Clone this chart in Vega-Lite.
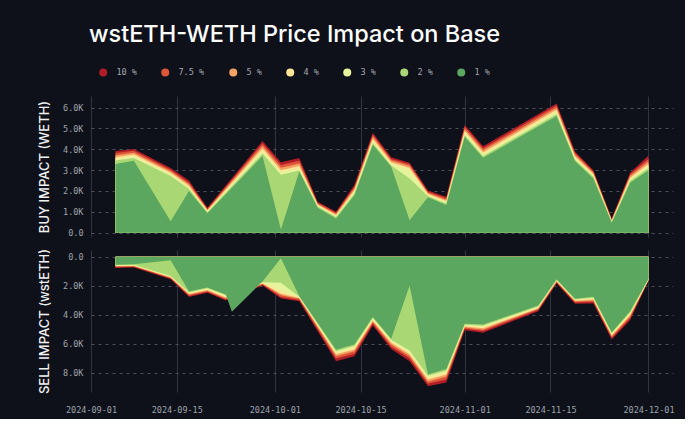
{
"$schema": "https://vega.github.io/schema/vega-lite/v6.json",
"background": "#0e111a",
"padding": {"left": 38, "top": 22, "right": 10, "bottom": 5},
"config": {"view": {"stroke": null}, "font": "Inter"},
"data": {"values": [
{"date":"2024-09-05","level":"10 %","buy":3920,"sell":770},{"date":"2024-09-05","level":"7.5 %","buy":3820,"sell":720},{"date":"2024-09-05","level":"5 %","buy":3720,"sell":680},{"date":"2024-09-05","level":"4 %","buy":3620,"sell":640},{"date":"2024-09-05","level":"3 %","buy":3540,"sell":610},{"date":"2024-09-05","level":"2 %","buy":3460,"sell":580},{"date":"2024-09-05","level":"1 %","buy":3300,"sell":550},
{"date":"2024-09-08","level":"10 %","buy":4020,"sell":750},{"date":"2024-09-08","level":"7.5 %","buy":3930,"sell":700},{"date":"2024-09-08","level":"5 %","buy":3840,"sell":660},{"date":"2024-09-08","level":"4 %","buy":3750,"sell":630},{"date":"2024-09-08","level":"3 %","buy":3660,"sell":600},{"date":"2024-09-08","level":"2 %","buy":3580,"sell":560},{"date":"2024-09-08","level":"1 %","buy":3450,"sell":520},
{"date":"2024-09-14","level":"10 %","buy":3100,"sell":1560},{"date":"2024-09-14","level":"7.5 %","buy":3020,"sell":1500},{"date":"2024-09-14","level":"5 %","buy":2950,"sell":1450},{"date":"2024-09-14","level":"4 %","buy":2880,"sell":1410},{"date":"2024-09-14","level":"3 %","buy":2800,"sell":1370},{"date":"2024-09-14","level":"2 %","buy":2720,"sell":1330},{"date":"2024-09-14","level":"1 %","buy":550,"sell":240},
{"date":"2024-09-17","level":"10 %","buy":2500,"sell":2780},{"date":"2024-09-17","level":"7.5 %","buy":2400,"sell":2700},{"date":"2024-09-17","level":"5 %","buy":2320,"sell":2620},{"date":"2024-09-17","level":"4 %","buy":2240,"sell":2560},{"date":"2024-09-17","level":"3 %","buy":2170,"sell":2500},{"date":"2024-09-17","level":"2 %","buy":2100,"sell":2450},{"date":"2024-09-17","level":"1 %","buy":2000,"sell":2400},
{"date":"2024-09-20","level":"10 %","buy":1200,"sell":2480},{"date":"2024-09-20","level":"7.5 %","buy":1150,"sell":2420},{"date":"2024-09-20","level":"5 %","buy":1100,"sell":2360},{"date":"2024-09-20","level":"4 %","buy":1060,"sell":2300},{"date":"2024-09-20","level":"3 %","buy":1020,"sell":2240},{"date":"2024-09-20","level":"2 %","buy":980,"sell":2180},{"date":"2024-09-20","level":"1 %","buy":930,"sell":2120},
{"date":"2024-09-23","level":"10 %","buy":null,"sell":3020},{"date":"2024-09-23","level":"7.5 %","buy":null,"sell":2950},{"date":"2024-09-23","level":"5 %","buy":null,"sell":2870},{"date":"2024-09-23","level":"4 %","buy":null,"sell":2800},{"date":"2024-09-23","level":"3 %","buy":null,"sell":2730},{"date":"2024-09-23","level":"2 %","buy":null,"sell":2660},{"date":"2024-09-23","level":"1 %","buy":null,"sell":2600},
{"date":"2024-09-24","level":"1 %","buy":null,"sell":3790},
{"date":"2024-09-29","level":"10 %","buy":4400,"sell":1980},{"date":"2024-09-29","level":"7.5 %","buy":4280,"sell":1930},{"date":"2024-09-29","level":"5 %","buy":4160,"sell":1880},{"date":"2024-09-29","level":"4 %","buy":4040,"sell":1840},{"date":"2024-09-29","level":"3 %","buy":3920,"sell":1800},{"date":"2024-09-29","level":"2 %","buy":3800,"sell":1760},{"date":"2024-09-29","level":"1 %","buy":3680,"sell":1700},
{"date":"2024-10-02","level":"10 %","buy":3380,"sell":2880},{"date":"2024-10-02","level":"7.5 %","buy":3250,"sell":2770},{"date":"2024-10-02","level":"5 %","buy":3120,"sell":2650},{"date":"2024-10-02","level":"4 %","buy":3000,"sell":2550},{"date":"2024-10-02","level":"3 %","buy":2900,"sell":2350},{"date":"2024-10-02","level":"2 %","buy":2780,"sell":1800},{"date":"2024-10-02","level":"1 %","buy":150,"sell":100},
{"date":"2024-10-05","level":"10 %","buy":3580,"sell":3060},{"date":"2024-10-05","level":"7.5 %","buy":3450,"sell":2980},{"date":"2024-10-05","level":"5 %","buy":3320,"sell":2900},{"date":"2024-10-05","level":"4 %","buy":3200,"sell":2850},{"date":"2024-10-05","level":"3 %","buy":3080,"sell":2800},{"date":"2024-10-05","level":"2 %","buy":2980,"sell":2760},{"date":"2024-10-05","level":"1 %","buy":2930,"sell":2720},
{"date":"2024-10-08","level":"10 %","buy":1480,"sell":null},{"date":"2024-10-08","level":"7.5 %","buy":1430,"sell":null},{"date":"2024-10-08","level":"5 %","buy":1380,"sell":null},{"date":"2024-10-08","level":"4 %","buy":1340,"sell":null},{"date":"2024-10-08","level":"3 %","buy":1300,"sell":null},{"date":"2024-10-08","level":"2 %","buy":1260,"sell":null},{"date":"2024-10-08","level":"1 %","buy":1200,"sell":null},
{"date":"2024-10-11","level":"10 %","buy":1000,"sell":7200},{"date":"2024-10-11","level":"7.5 %","buy":950,"sell":7000},{"date":"2024-10-11","level":"5 %","buy":900,"sell":6850},{"date":"2024-10-11","level":"4 %","buy":850,"sell":6720},{"date":"2024-10-11","level":"3 %","buy":800,"sell":6600},{"date":"2024-10-11","level":"2 %","buy":750,"sell":6500},{"date":"2024-10-11","level":"1 %","buy":680,"sell":6400},
{"date":"2024-10-14","level":"10 %","buy":2300,"sell":6850},{"date":"2024-10-14","level":"7.5 %","buy":2200,"sell":6680},{"date":"2024-10-14","level":"5 %","buy":2120,"sell":6500},{"date":"2024-10-14","level":"4 %","buy":2040,"sell":6380},{"date":"2024-10-14","level":"3 %","buy":1960,"sell":6250},{"date":"2024-10-14","level":"2 %","buy":1880,"sell":6150},{"date":"2024-10-14","level":"1 %","buy":1800,"sell":6050},
{"date":"2024-10-17","level":"10 %","buy":4800,"sell":4740},{"date":"2024-10-17","level":"7.5 %","buy":4700,"sell":4620},{"date":"2024-10-17","level":"5 %","buy":4600,"sell":4500},{"date":"2024-10-17","level":"4 %","buy":4500,"sell":4400},{"date":"2024-10-17","level":"3 %","buy":4400,"sell":4300},{"date":"2024-10-17","level":"2 %","buy":4300,"sell":4220},{"date":"2024-10-17","level":"1 %","buy":4220,"sell":4150},
{"date":"2024-10-20","level":"10 %","buy":3620,"sell":6350},{"date":"2024-10-20","level":"7.5 %","buy":3540,"sell":6200},{"date":"2024-10-20","level":"5 %","buy":3460,"sell":6050},{"date":"2024-10-20","level":"4 %","buy":3380,"sell":5920},{"date":"2024-10-20","level":"3 %","buy":3300,"sell":5820},{"date":"2024-10-20","level":"2 %","buy":3220,"sell":5720},{"date":"2024-10-20","level":"1 %","buy":3170,"sell":5650},
{"date":"2024-10-23","level":"10 %","buy":3360,"sell":7200},{"date":"2024-10-23","level":"7.5 %","buy":3280,"sell":7000},{"date":"2024-10-23","level":"5 %","buy":3200,"sell":6850},{"date":"2024-10-23","level":"4 %","buy":3100,"sell":6720},{"date":"2024-10-23","level":"3 %","buy":3000,"sell":6600},{"date":"2024-10-23","level":"2 %","buy":2600,"sell":6450},{"date":"2024-10-23","level":"1 %","buy":600,"sell":2000},
{"date":"2024-10-26","level":"10 %","buy":2020,"sell":8920},{"date":"2024-10-26","level":"7.5 %","buy":1960,"sell":8750},{"date":"2024-10-26","level":"5 %","buy":1900,"sell":8600},{"date":"2024-10-26","level":"4 %","buy":1850,"sell":8450},{"date":"2024-10-26","level":"3 %","buy":1800,"sell":8330},{"date":"2024-10-26","level":"2 %","buy":1750,"sell":8200},{"date":"2024-10-26","level":"1 %","buy":1700,"sell":8100},
{"date":"2024-10-29","level":"10 %","buy":1720,"sell":8650},{"date":"2024-10-29","level":"7.5 %","buy":1650,"sell":8450},{"date":"2024-10-29","level":"5 %","buy":1580,"sell":8250},{"date":"2024-10-29","level":"4 %","buy":1520,"sell":8100},{"date":"2024-10-29","level":"3 %","buy":1460,"sell":7980},{"date":"2024-10-29","level":"2 %","buy":1400,"sell":7850},{"date":"2024-10-29","level":"1 %","buy":1330,"sell":7720},
{"date":"2024-11-01","level":"10 %","buy":5180,"sell":5060},{"date":"2024-11-01","level":"7.5 %","buy":5080,"sell":4960},{"date":"2024-11-01","level":"5 %","buy":4980,"sell":4880},{"date":"2024-11-01","level":"4 %","buy":4880,"sell":4800},{"date":"2024-11-01","level":"3 %","buy":4780,"sell":4740},{"date":"2024-11-01","level":"2 %","buy":4680,"sell":4680},{"date":"2024-11-01","level":"1 %","buy":4600,"sell":4620},
{"date":"2024-11-04","level":"10 %","buy":4150,"sell":5240},{"date":"2024-11-04","level":"7.5 %","buy":4050,"sell":5120},{"date":"2024-11-04","level":"5 %","buy":3950,"sell":5020},{"date":"2024-11-04","level":"4 %","buy":3850,"sell":4930},{"date":"2024-11-04","level":"3 %","buy":3760,"sell":4840},{"date":"2024-11-04","level":"2 %","buy":3680,"sell":4750},{"date":"2024-11-04","level":"1 %","buy":3600,"sell":4670},
{"date":"2024-11-13","level":"10 %","buy":null,"sell":3750},{"date":"2024-11-13","level":"7.5 %","buy":null,"sell":3670},{"date":"2024-11-13","level":"5 %","buy":null,"sell":3600},{"date":"2024-11-13","level":"4 %","buy":null,"sell":3540},{"date":"2024-11-13","level":"3 %","buy":null,"sell":3480},{"date":"2024-11-13","level":"2 %","buy":null,"sell":3420},{"date":"2024-11-13","level":"1 %","buy":null,"sell":3360},
{"date":"2024-11-16","level":"10 %","buy":6200,"sell":1840},{"date":"2024-11-16","level":"7.5 %","buy":6100,"sell":1780},{"date":"2024-11-16","level":"5 %","buy":6000,"sell":1730},{"date":"2024-11-16","level":"4 %","buy":5900,"sell":1680},{"date":"2024-11-16","level":"3 %","buy":5800,"sell":1640},{"date":"2024-11-16","level":"2 %","buy":5700,"sell":1600},{"date":"2024-11-16","level":"1 %","buy":5600,"sell":1560},
{"date":"2024-11-19","level":"10 %","buy":3900,"sell":3240},{"date":"2024-11-19","level":"7.5 %","buy":3820,"sell":3150},{"date":"2024-11-19","level":"5 %","buy":3740,"sell":3080},{"date":"2024-11-19","level":"4 %","buy":3660,"sell":3030},{"date":"2024-11-19","level":"3 %","buy":3580,"sell":2980},{"date":"2024-11-19","level":"2 %","buy":3500,"sell":2940},{"date":"2024-11-19","level":"1 %","buy":3440,"sell":2900},
{"date":"2024-11-22","level":"10 %","buy":3000,"sell":3220},{"date":"2024-11-22","level":"7.5 %","buy":2940,"sell":3120},{"date":"2024-11-22","level":"5 %","buy":2880,"sell":3030},{"date":"2024-11-22","level":"4 %","buy":2820,"sell":2950},{"date":"2024-11-22","level":"3 %","buy":2750,"sell":2880},{"date":"2024-11-22","level":"2 %","buy":2680,"sell":2820},{"date":"2024-11-22","level":"1 %","buy":2600,"sell":2760},
{"date":"2024-11-25","level":"10 %","buy":680,"sell":5700},{"date":"2024-11-25","level":"7.5 %","buy":640,"sell":5600},{"date":"2024-11-25","level":"5 %","buy":600,"sell":5500},{"date":"2024-11-25","level":"4 %","buy":570,"sell":5420},{"date":"2024-11-25","level":"3 %","buy":540,"sell":5340},{"date":"2024-11-25","level":"2 %","buy":510,"sell":5270},{"date":"2024-11-25","level":"1 %","buy":480,"sell":5200},
{"date":"2024-11-28","level":"10 %","buy":2880,"sell":4370},{"date":"2024-11-28","level":"7.5 %","buy":2800,"sell":4240},{"date":"2024-11-28","level":"5 %","buy":2720,"sell":4120},{"date":"2024-11-28","level":"4 %","buy":2640,"sell":4020},{"date":"2024-11-28","level":"3 %","buy":2560,"sell":3930},{"date":"2024-11-28","level":"2 %","buy":2480,"sell":3840},{"date":"2024-11-28","level":"1 %","buy":2400,"sell":3750},
{"date":"2024-12-01","level":"10 %","buy":3700,"sell":1660},{"date":"2024-12-01","level":"7.5 %","buy":3550,"sell":1640},{"date":"2024-12-01","level":"5 %","buy":3420,"sell":1620},{"date":"2024-12-01","level":"4 %","buy":3300,"sell":1600},{"date":"2024-12-01","level":"3 %","buy":3200,"sell":1580},{"date":"2024-12-01","level":"2 %","buy":3100,"sell":1550},{"date":"2024-12-01","level":"1 %","buy":3000,"sell":1520}
]},
"spacing": 10,
"resolve": {"legend": {"color": "independent"}},
"vconcat": [
{
"title": {"text": "wstETH-WETH Price Impact on Base", "anchor": "start", "frame": "group", "font": "Inter", "fontSize": 23.5, "fontWeight": 500, "color": "#ffffff", "offset": 22, "dx": -2},
"width": 582, "height": 141,
"transform": [{"filter": "datum.buy != null"}],
"mark": {"type": "area", "opacity": 1},
"encoding": {
"x": {"field": "date", "type": "temporal",
"scale": {"type": "utc", "domain": [{"year":2024,"month":9,"date":1,"utc":true},{"year":2024,"month":12,"date":5,"utc":true}]},
"axis": {"title": null, "labels": false, "ticks": false, "domain": false, "grid": true, "gridColor": "#2f343e", "gridWidth": 1,
"values": [{"year":2024,"month":9,"date":1,"utc":true},{"year":2024,"month":9,"date":15,"utc":true},{"year":2024,"month":10,"date":1,"utc":true},{"year":2024,"month":10,"date":15,"utc":true},{"year":2024,"month":11,"date":1,"utc":true},{"year":2024,"month":11,"date":15,"utc":true},{"year":2024,"month":12,"date":1,"utc":true}]}},
"y": {"field": "buy", "type": "quantitative", "stack": null,
"scale": {"domain": [-210, 6560], "nice": false, "zero": false},
"axis": {"title": "BUY IMPACT (WETH)", "values": [0,1000,2000,3000,4000,5000,6000],
"labelExpr": "datum.value == 0 ? '0.0' : format(datum.value/1000, '.1f') + 'K'",
"domain": false, "ticks": false, "labelPadding": 8, "grid": true, "gridDash": [3,4], "gridColor": "#4a4f59",
"labelFont": "DejaVu Sans Mono", "labelFontSize": 8.5, "labelColor": "#9ea3ab",
"titleFont": "Inter", "titleFontSize": 13, "titleFontWeight": 500, "titleColor": "#f0f0f0", "titlePadding": 11}},
"color": {"field": "level", "type": "nominal",
"scale": {"domain": ["10 %","7.5 %","5 %","4 %","3 %","2 %","1 %"], "range": ["#b01c27","#de5638","#f4a263","#fde698","#e4f39c","#a9d774","#5ca75f"]},
"legend": {"orient": "none", "legendX": 8, "legendY": -28, "direction": "horizontal", "title": null, "symbolType": "circle", "symbolSize": 64, "symbolStrokeWidth": 0, "symbolOpacity": 1, "labelFont": "DejaVu Sans Mono", "labelFontSize": 8.5, "labelColor": "#a3a7ae", "labelOffset": 9, "columnPadding": 24, "padding": 0}}
}
},
{
"width": 582, "height": 142,
"transform": [{"filter": "datum.sell != null"}],
"mark": {"type": "area", "opacity": 1},
"encoding": {
"x": {"field": "date", "type": "temporal",
"scale": {"type": "utc", "domain": [{"year":2024,"month":9,"date":1,"utc":true},{"year":2024,"month":12,"date":5,"utc":true}]},
"axis": {"title": null, "format": "%Y-%m-%d", "ticks": false, "domain": false, "grid": true, "gridColor": "#2f343e", "gridWidth": 1, "labelPadding": 13, "labelFlush": false,
"labelFont": "DejaVu Sans Mono", "labelFontSize": 8.5, "labelColor": "#9ea3ab", "labelAngle": 0,
"values": [{"year":2024,"month":9,"date":1,"utc":true},{"year":2024,"month":9,"date":15,"utc":true},{"year":2024,"month":10,"date":1,"utc":true},{"year":2024,"month":10,"date":15,"utc":true},{"year":2024,"month":11,"date":1,"utc":true},{"year":2024,"month":11,"date":15,"utc":true},{"year":2024,"month":12,"date":1,"utc":true}]}},
"y": {"field": "sell", "type": "quantitative", "stack": null,
"scale": {"domain": [-460, 9310], "nice": false, "zero": false, "reverse": true},
"axis": {"title": "SELL IMPACT (wstETH)", "values": [0,2000,4000,6000,8000],
"labelExpr": "datum.value == 0 ? '0.0' : format(datum.value/1000, '.1f') + 'K'",
"domain": false, "ticks": false, "labelPadding": 8, "grid": true, "gridDash": [3,4], "gridColor": "#4a4f59",
"labelFont": "DejaVu Sans Mono", "labelFontSize": 8.5, "labelColor": "#9ea3ab",
"titleFont": "Inter", "titleFontSize": 13, "titleFontWeight": 500, "titleColor": "#f0f0f0", "titlePadding": 11}},
"color": {"field": "level", "type": "nominal",
"scale": {"domain": ["10 %","7.5 %","5 %","4 %","3 %","2 %","1 %"], "range": ["#b01c27","#de5638","#f4a263","#fde698","#e4f39c","#a9d774","#5ca75f"]},
"legend": null}
}
}
]
}
